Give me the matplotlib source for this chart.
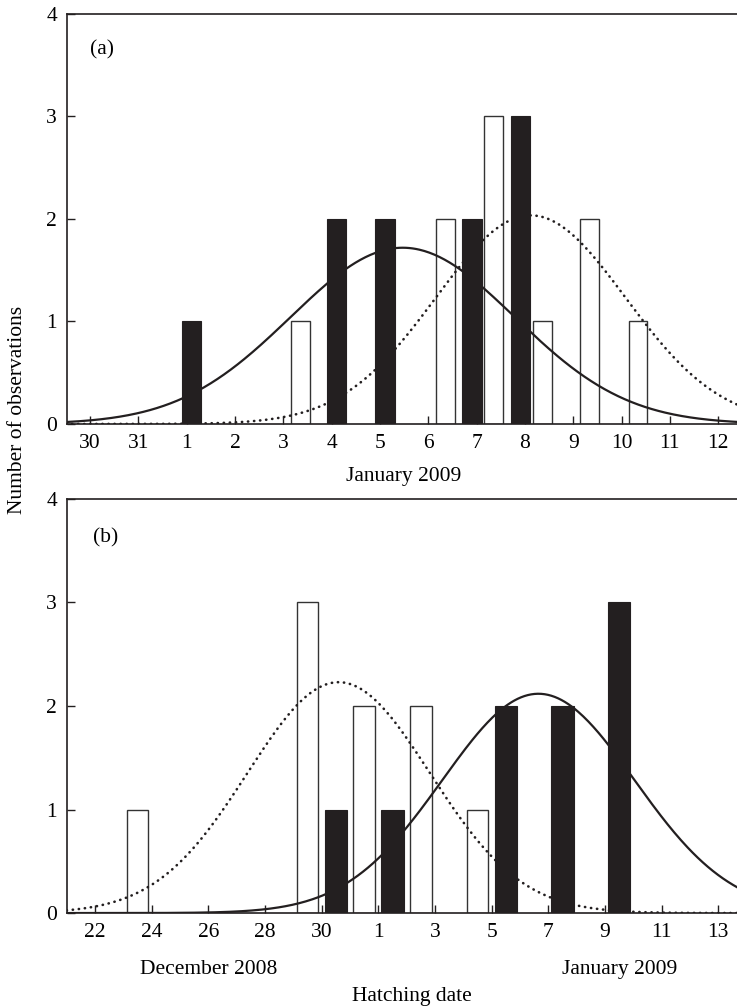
import numpy as np
import matplotlib
matplotlib.use("Agg")
import matplotlib.pyplot as plt

plt.rcParams["font.family"] = "Liberation Serif"
plt.rcParams["font.size"] = 15.5

# panel (a): day index, Jan 1 2009 = 1 (Dec 30 = -1, Dec 31 = 0)
a_black_pos = [1.1, 4.1, 5.1, 6.91, 7.91]
a_black_cnt = [1, 2, 2, 2, 3]
a_white_pos = [3.35, 6.35, 7.35, 8.36, 9.34, 10.34]
a_white_cnt = [1, 2, 3, 1, 2, 1]
a_ticks = list(range(-1, 13))
a_ticklabels = ["30", "31"] + [str(d) for d in range(1, 13)]

# fitted normal curves (mean, sd, n, bin width)
a_solid_fit = (5.47, 2.32, 10, 1.0)
a_dotted_fit = (8.12, 1.96, 10, 1.0)

# panel (b): day index, Dec 31 2008 = 31, Jan 1 2009 = 32
b_white_pos = [23.5, 29.5, 31.5, 33.5, 35.5]
b_white_cnt = [1, 3, 2, 2, 1]
b_black_pos = [30.5, 32.5, 36.5, 38.5, 40.5]
b_black_cnt = [1, 1, 2, 2, 3]
b_ticks = list(range(22, 45, 2))
b_ticklabels = ["22", "24", "26", "28", "30", "1", "3", "5", "7", "9", "11", "13"]

b_solid_fit = (37.65, 3.39, 9, 2.0)
b_dotted_fit = (30.6, 3.22, 9, 2.0)

BLACK = "#231f20"


def normal_curve(x, fit):
    mu, sd, n, bw = fit
    return n * bw / (sd * np.sqrt(2 * np.pi)) * np.exp(-(x - mu) ** 2 / (2 * sd ** 2))


def style_axes(ax, xlim, ticks, ticklabels):
    ax.set_xlim(*xlim)
    ax.set_ylim(0, 4)
    ax.set_yticks([0, 1, 2, 3, 4])
    ax.set_xticks(ticks)
    ax.set_xticklabels(ticklabels)
    ax.spines["right"].set_visible(False)
    for s in ["left", "top", "bottom"]:
        ax.spines[s].set_linewidth(1.2)
        ax.spines[s].set_color(BLACK)
    ax.tick_params(axis="both", direction="in", length=6, width=1, color=BLACK, pad=7)


fig = plt.figure(figsize=(7.37, 10.08), dpi=100)
ax1 = fig.add_axes([0.0905, 0.5794, 0.9095, 0.4067])
ax2 = fig.add_axes([0.0905, 0.0942, 0.9095, 0.4108])

# (a)
ax1.bar(a_black_pos, a_black_cnt, width=0.41, color=BLACK, edgecolor=BLACK, linewidth=0.8, zorder=2)
ax1.bar(a_white_pos, a_white_cnt, width=0.39, color="white", edgecolor="#333333", linewidth=1.0, zorder=2)
xa = np.linspace(-1.5, 12.4, 400)
ax1.plot(xa, normal_curve(xa, a_solid_fit), color=BLACK, lw=1.6, zorder=3)
ax1.plot(xa, normal_curve(xa, a_dotted_fit), color=BLACK, lw=1.9,
         linestyle=(0, (0.1, 2.2)), dash_capstyle="round", zorder=3)
style_axes(ax1, (-1.484, 12.39), a_ticks, a_ticklabels)
ax1.text(0.035, 0.912, "(a)", transform=ax1.transAxes, ha="left", va="center")

# (b)
ax2.bar(b_white_pos, b_white_cnt, width=0.77, color="white", edgecolor="#333333", linewidth=1.0, zorder=2)
ax2.bar(b_black_pos, b_black_cnt, width=0.79, color=BLACK, edgecolor=BLACK, linewidth=0.8, zorder=2)
xb = np.linspace(21, 44.7, 400)
ax2.plot(xb, normal_curve(xb, b_solid_fit), color=BLACK, lw=1.6, zorder=3)
ax2.plot(xb, normal_curve(xb, b_dotted_fit), color=BLACK, lw=1.9,
         linestyle=(0, (0.1, 2.2)), dash_capstyle="round", zorder=3)
style_axes(ax2, (21.0, 44.66), b_ticks, b_ticklabels)
ax2.text(0.039, 0.906, "(b)", transform=ax2.transAxes, ha="left", va="center")

fig.text(0.547, 0.527, "January 2009", ha="center", va="center")
fig.text(0.2836, 0.0377, "December 2008", ha="center", va="center")
fig.text(0.841, 0.0377, "January 2009", ha="center", va="center")
fig.text(0.559, 0.0119, "Hatching date", ha="center", va="center")
fig.text(0.024, 0.593, "Number of observations", rotation=90, ha="center", va="center")

fig.savefig("out.png", dpi=100)
